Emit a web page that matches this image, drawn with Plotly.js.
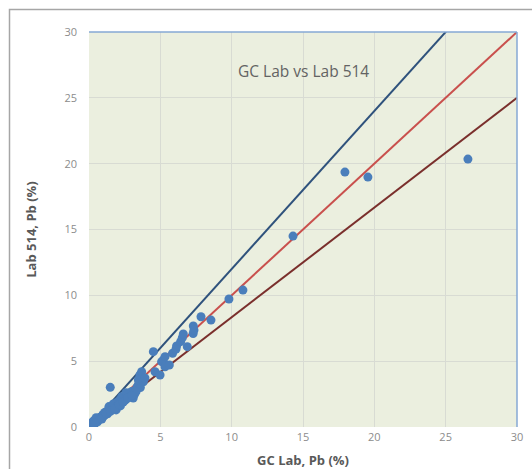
<!DOCTYPE html>
<html>
<head>
<meta charset="utf-8">
<script src="https://cdn.plot.ly/plotly-3.0.1.min.js"></script>
<style>html,body{margin:0;padding:0;background:#fff;}#chart{width:532px;height:469px;}</style>
</head>
<body>
<div id="chart"></div>
<script>
// GC Lab Pb (%) values
const gcLab = [0.0,0.05,0.1,0.1,0.15,0.2,0.2,0.25,0.3,0.3,0.35,0.4,0.45,0.5,0.55,0.6,0.7,0.75,0.8,0.9,0.95,1.0,1.05,1.1,1.2,1.25,1.3,1.4,1.45,1.5,1.6,1.65,1.7,1.8,1.85,1.9,1.9,2.0,2.1,2.2,2.2,2.3,2.4,2.5,2.6,2.7,2.8,2.9,3.0,3.1,3.2,3.3,3.4,3.5,3.6,
  0.1,0.3,0.5,0.6,0.8,1.0,1.1,1.3,1.4,1.6,1.7,2.0,2.3,2.5,2.6,2.9,3.3,0.4,0.9,1.2,1.5,1.8,2.1,2.4,2.7,3.0,
  1.49,3.46,3.57,3.69,3.81,3.92,4.51,4.63,4.98,5.09,5.21,5.33,5.33,5.63,5.86,6.10,6.14,6.42,6.54,6.61,6.89,7.3,7.31,7.36,7.85,8.55,9.81,10.79,14.30,17.94,19.55,26.56];
// Lab 514 Pb (%) values
const lab514 = [0.0,0.02,0.08,0.0,0.1,0.15,0.3,0.2,0.3,0.1,0.25,0.35,0.4,0.5,0.45,0.5,0.6,0.7,0.75,0.8,0.9,0.95,1.0,0.9,1.1,1.2,1.15,1.3,1.4,1.3,1.5,1.6,1.45,1.7,1.6,1.8,1.3,1.9,1.85,2.1,1.6,2.0,2.2,2.3,2.1,2.5,2.4,2.6,2.7,2.2,2.5,2.9,3.1,3.3,3.0,
  0.2,0.45,0.7,0.4,0.6,0.8,1.1,1.0,1.55,1.3,1.75,1.6,2.3,2.0,2.6,2.3,2.7,0.25,0.6,1.0,1.2,1.4,1.7,1.9,2.2,2.4,
  3.01,3.57,3.95,4.2,3.44,3.72,5.72,4.2,3.95,4.96,5.09,5.34,4.58,4.71,5.6,5.92,6.15,6.48,6.78,7.06,6.1,7.1,7.67,7.36,8.37,8.12,9.72,10.4,14.5,19.36,18.98,20.35];
// reference lines: 1.2:1, 1:1, 0.833:1
const refX = [0, 30];
const upperY = [0, 36];
const equalY = [0, 30];
const lowerY = [0, 25];
const tickVals = [0, 5, 10, 15, 20, 25, 30];

const px = x => (x - 89) / 428;
const py = y => (427 - y) / 395;

const traces = [
  {x: refX, y: upperY, mode: 'lines', line: {color: '#2f527c', width: 2}, hoverinfo: 'skip'},
  {x: refX, y: equalY, mode: 'lines', line: {color: '#c9504d', width: 2}, hoverinfo: 'skip'},
  {x: refX, y: lowerY, mode: 'lines', line: {color: '#7a2f2c', width: 2}, hoverinfo: 'skip'},
  {x: gcLab, y: lab514, mode: 'markers', marker: {color: '#4a7ebb', size: 9, line: {width: 0}}}
];

const axisFont = {family: 'Open Sans, Liberation Sans, sans-serif', size: 11, color: '#8c8c8c'};
const layout = {
  width: 532, height: 469,
  margin: {l: 89, r: 15, t: 32, b: 42},
  paper_bgcolor: '#ffffff',
  plot_bgcolor: '#ebefdf',
  showlegend: false,
  xaxis: {
    range: [0, 30], tickvals: tickVals, showgrid: true, gridcolor: '#d8dbd3', gridwidth: 1,
    zeroline: false, showline: false, ticks: '', tickfont: axisFont, fixedrange: true,
    ticklabelstandoff: 2,
    title: {text: 'GC Lab, Pb (%)', standoff: 14, font: {family: 'Open Sans, Liberation Sans, sans-serif', size: 13, color: '#595959', weight: 'bold'}}
  },
  yaxis: {
    range: [0, 30], tickvals: tickVals, showgrid: true, gridcolor: '#d8dbd3', gridwidth: 1,
    zeroline: false, showline: false, ticks: '', tickfont: axisFont, fixedrange: true,
    ticklabelstandoff: 11,
    title: {text: 'Lab 514, Pb (%)', standoff: 24, font: {family: 'Open Sans, Liberation Sans, sans-serif', size: 13, color: '#595959', weight: 'bold'}}
  },
  annotations: [{
    text: 'GC Lab vs Lab 514', xref: 'paper', yref: 'paper', x: px(303), y: py(58),
    showarrow: false, font: {family: 'Open Sans, Liberation Sans, sans-serif', size: 15.5, color: '#636363'}
  }],
  shapes: [
    {type: 'rect', xref: 'paper', yref: 'paper', x0: px(9.5), y0: py(480), x1: px(545), y1: py(9.5),
     line: {color: '#a6a6a6', width: 1.5}, fillcolor: 'rgba(0,0,0,0)', layer: 'below'},
    {type: 'line', xref: 'paper', yref: 'paper', x0: 0, y0: 1, x1: 1, y1: 1, line: {color: '#86a8d4', width: 1.5}},
    {type: 'line', xref: 'paper', yref: 'paper', x0: 1, y0: 0, x1: 1, y1: 1, line: {color: '#86a8d4', width: 1.5}}
  ]
};

Plotly.newPlot('chart', traces, layout, {displayModeBar: false, staticPlot: true});
</script>
</body>
</html>
